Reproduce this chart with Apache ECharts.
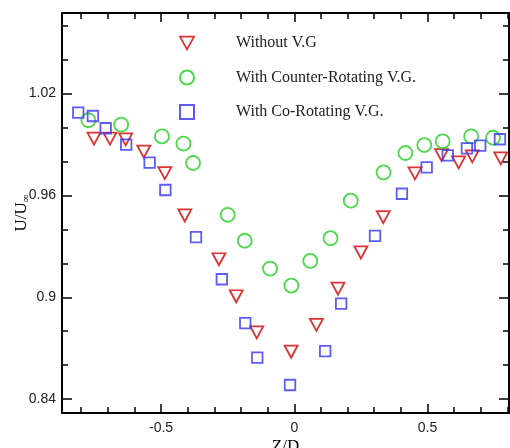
<!DOCTYPE html>
<html>
<head>
<meta charset="utf-8">
<script src="https://cdn.jsdelivr.net/npm/echarts@6/dist/echarts.min.js"></script>
<style>
  html, body { margin: 0; padding: 0; background: #fff; }
  #chart { width: 510px; height: 448px; }
</style>
</head>
<body>
<div id="chart"></div>
<script>
// Z/D and U/Uinf
const withoutZ = [-0.752, -0.692, -0.633, -0.565, -0.486, -0.411, -0.283, -0.218, -0.141, -0.012, 0.083, 0.164, 0.250, 0.334, 0.453, 0.553, 0.617, 0.668, 0.775];
const withoutU = [0.9935, 0.9935, 0.993, 0.9858, 0.9732, 0.9482, 0.9224, 0.9006, 0.8793, 0.8679, 0.8837, 0.9051, 0.9264, 0.9472, 0.973, 0.9838, 0.9795, 0.983, 0.9818];

const counterZ = [-0.773, -0.650, -0.497, -0.416, -0.380, -0.250, -0.186, -0.091, -0.011, 0.060, 0.136, 0.212, 0.335, 0.417, 0.488, 0.557, 0.664, 0.746];
const counterU = [1.0043, 1.0017, 0.9948, 0.9905, 0.9791, 0.9486, 0.9333, 0.9169, 0.9069, 0.9214, 0.9348, 0.9569, 0.9736, 0.985, 0.9897, 0.9919, 0.9948, 0.994];

const coZ = [-0.811, -0.756, -0.708, -0.631, -0.543, -0.484, -0.369, -0.272, -0.184, -0.139, -0.016, 0.116, 0.176, 0.303, 0.404, 0.497, 0.576, 0.648, 0.698, 0.772];
const coU = [1.0088, 1.0068, 0.9996, 0.9899, 0.9793, 0.9632, 0.9354, 0.9106, 0.8847, 0.8644, 0.8483, 0.8683, 0.8963, 0.9362, 0.961, 0.9765, 0.9836, 0.9877, 0.9893, 0.9931];

const xMajor = [-0.5, 0, 0.5];
const xMinor = [-0.8, -0.7, -0.6, -0.4, -0.3, -0.2, -0.1, 0.1, 0.2, 0.3, 0.4, 0.6, 0.7, 0.8];
const yMajor = [0.84, 0.9, 0.96, 1.02];
const yMinor = [0.86, 0.88, 0.92, 0.94, 0.98, 1.0, 1.04, 1.06];

const pairs = (xs, ys) => xs.map((x, i) => [x, ys[i]]);

// downward triangle (legend does not follow symbolRotate)
const triDown = 'path://M0,0 L12,0 L6,11 Z';

const chart = echarts.init(document.getElementById('chart'));

const xBase = { type: 'value', min: -0.872, max: 0.806, splitLine: { show: false } };
const yBase = { type: 'value', min: 0.8318, max: 1.0675, splitLine: { show: false } };
const line = { show: true, onZero: false, lineStyle: { color: '#000', width: 2 } };
const noLine = { show: false, onZero: false };
const tick = (vals, len) => ({ show: true, inside: true, length: len, customValues: vals, lineStyle: { color: '#000', width: 1.5 } });
const noLabel = { show: false };

const option = {
  animation: false,
  grid: { left: 62, right: 1, top: 13, bottom: 35, outerBoundsMode: 'none' },
  legend: {
    orient: 'vertical',
    left: 174,
    top: 30,
    itemWidth: 14,
    itemHeight: 14,
    itemGap: 18.5,
    textStyle: { fontFamily: 'Liberation Serif', fontSize: 16, color: '#222', padding: [0, 0, 0, 37] },
    data: [
      { name: 'Without V.G', icon: triDown, itemStyle: { color: 'transparent', borderColor: '#d40000', borderWidth: 1.8 } },
      { name: 'With Counter-Rotating V.G.', icon: 'circle' },
      { name: 'With Co-Rotating V.G.', icon: 'rect' }
    ]
  },
  xAxis: [
    Object.assign({}, xBase, {
      position: 'bottom', axisLine: line, axisTick: tick(xMajor, 9),
      axisLabel: { customValues: xMajor, margin: 8, fontFamily: 'Liberation Sans', fontSize: 14, color: '#222' },
      name: 'Z/D', nameLocation: 'middle', nameGap: 25, nameMoveOverlap: false,
      nameTextStyle: { fontFamily: 'Liberation Serif', fontSize: 17, color: '#000' }
    }),
    Object.assign({}, xBase, { position: 'bottom', axisLine: noLine, axisTick: tick(xMinor, 6), axisLabel: noLabel }),
    Object.assign({}, xBase, { position: 'top', axisLine: line, axisTick: tick(xMajor, 9), axisLabel: noLabel }),
    Object.assign({}, xBase, { position: 'top', axisLine: noLine, axisTick: tick(xMinor, 6), axisLabel: noLabel })
  ],
  yAxis: [
    Object.assign({}, yBase, {
      position: 'left', axisLine: line, axisTick: tick(yMajor, 10),
      axisLabel: { customValues: yMajor, margin: 6, fontFamily: 'Liberation Sans', fontSize: 14, color: '#222' },
      name: 'U/U{s|∞}', nameLocation: 'middle', nameGap: 30, nameMoveOverlap: false,
      nameTextStyle: {
        fontFamily: 'Liberation Serif', fontSize: 17, color: '#000',
        rich: { s: { fontFamily: 'Liberation Serif', fontSize: 11, color: '#000', padding: [10, 0, 0, 0] } }
      }
    }),
    Object.assign({}, yBase, { position: 'left', axisLine: noLine, axisTick: tick(yMinor, 6), axisLabel: noLabel }),
    Object.assign({}, yBase, { position: 'right', axisLine: line, axisTick: tick(yMajor, 10), axisLabel: noLabel }),
    Object.assign({}, yBase, { position: 'right', axisLine: noLine, axisTick: tick(yMinor, 6), axisLabel: noLabel })
  ],
  series: [
    {
      name: 'Without V.G', type: 'scatter', data: pairs(withoutZ, withoutU),
      symbol: triDown, symbolSize: [13, 12],
      itemStyle: { color: 'transparent', borderColor: '#d40000', borderWidth: 1.8 }
    },
    {
      name: 'With Counter-Rotating V.G.', type: 'scatter', data: pairs(counterZ, counterU),
      symbol: 'circle', symbolSize: 14,
      itemStyle: { color: 'transparent', borderColor: '#1fd01f', borderWidth: 1.8 }
    },
    {
      name: 'With Co-Rotating V.G.', type: 'scatter', data: pairs(coZ, coU),
      symbol: 'rect', symbolSize: 10.5,
      itemStyle: { color: 'transparent', borderColor: '#3434f4', borderWidth: 1.8 }
    }
  ]
};

chart.setOption(option);
</script>
</body>
</html>
